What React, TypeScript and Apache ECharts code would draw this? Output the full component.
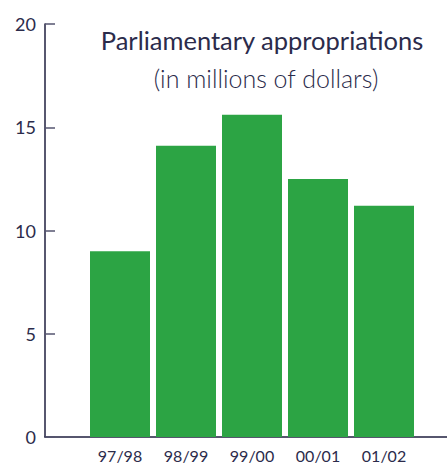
import React, { useEffect, useRef } from "react";
import * as echarts from "echarts";

const categories = ["97/98", "98/99", "99/00", "00/01", "01/02"];
const values = [9.0, 14.1, 15.6, 12.5, 11.2];
const yTicks = { min: 0, max: 20, interval: 5 };
const titleText = "Parliamentary appropriations";
const subtitleText = "(in millions of dollars)";

const FONT = "Lato, 'Open Sans', sans-serif";
const TEXT = "#2b2b4b";
const AXIS = "#1f1f3f";
const GREEN = "#2ca444";

export default function App() {
  const ref = useRef<HTMLDivElement>(null);
  useEffect(() => {
    const chart = echarts.init(ref.current!, null, { renderer: "svg" });
    chart.setOption({
      animation: false,
      backgroundColor: "#ffffff",
      title: [
        {
          text: titleText,
          left: 257,
          top: 22,
          textAlign: "center",
          textStyle: { fontFamily: FONT, fontSize: 25.5, fontWeight: "normal", color: TEXT },
        },
        {
          text: subtitleText,
          left: 261,
          top: 60,
          textAlign: "center",
          textStyle: { fontFamily: FONT, fontSize: 25, fontWeight: 300, color: TEXT },
        },
      ],
      grid: [
        { left: 87, right: 30, top: 24, bottom: 27 },
        { left: 45, right: 0, top: 24, bottom: 27 },
      ],
      xAxis: [
        {
          type: "category",
          gridIndex: 0,
          data: categories,
          axisLine: { show: false },
          axisTick: { show: false },
          axisLabel: { margin: 10, fontFamily: FONT, fontSize: 16, color: TEXT },
        },
        {
          type: "value",
          gridIndex: 1,
          min: 0,
          max: 1,
          axisLine: { show: true, onZero: false, lineStyle: { color: AXIS, width: 1.5 } },
          axisTick: { show: false },
          axisLabel: { show: false },
          splitLine: { show: false },
        },
      ],
      yAxis: [
        {
          type: "value",
          gridIndex: 0,
          min: yTicks.min,
          max: yTicks.max,
          interval: yTicks.interval,
          show: false,
          splitLine: { show: false },
        },
        {
          type: "value",
          gridIndex: 1,
          min: yTicks.min,
          max: yTicks.max,
          interval: yTicks.interval,
          axisLine: { show: true, lineStyle: { color: AXIS, width: 1.5 } },
          axisTick: { show: true, inside: true, length: 10, lineStyle: { color: "#55556f", width: 1.5 } },
          axisLabel: { margin: 9, fontFamily: FONT, fontSize: 18, color: TEXT },
          splitLine: { show: false },
        },
      ],
      series: [
        {
          type: "bar",
          xAxisIndex: 0,
          yAxisIndex: 0,
          data: values,
          barCategoryGap: "9.1%",
          itemStyle: { color: GREEN },
        },
      ],
    });
    return () => chart.dispose();
  }, []);
  return (
    <div
      ref={ref}
      style={{ position: "fixed", left: 0, top: 0, width: 447, height: 464 }}
    />
  );
}
